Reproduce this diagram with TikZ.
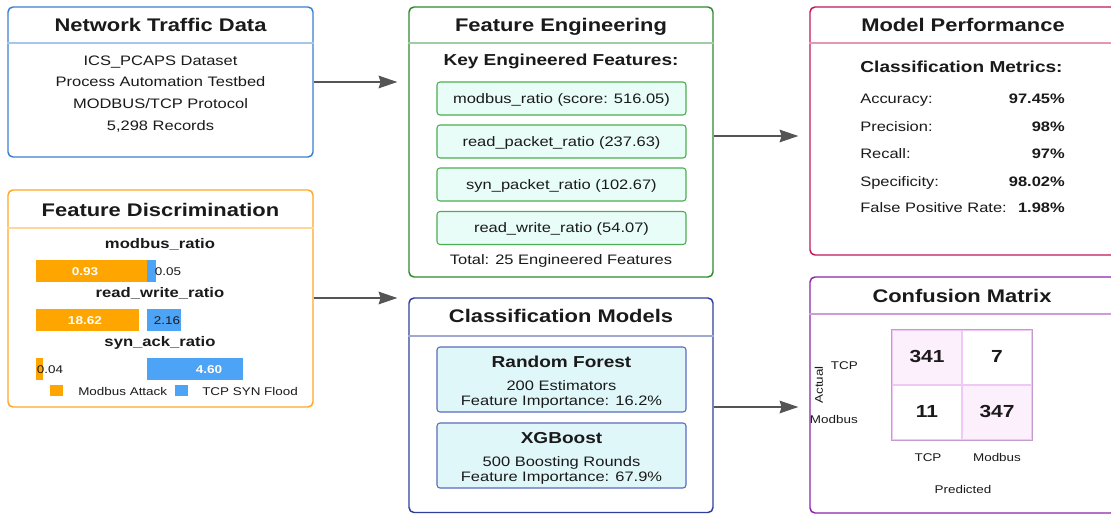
\documentclass[tikz,border=0pt]{standalone}
\usepackage{fontspec}
\setmainfont{Liberation Sans}[FakeStretch=1.2]
\usetikzlibrary{arrows.meta}
\definecolor{cblue}{HTML}{3A80D2}
\definecolor{cgreen}{HTML}{2E8B2E}
\definecolor{cpink}{HTML}{C2185B}
\definecolor{corange}{HTML}{FFA726}
\definecolor{cpurple}{HTML}{8E24AA}
\definecolor{cnavy}{HTML}{2F3F9E}
\definecolor{fmint}{HTML}{E8FDF7}
\definecolor{bmint}{HTML}{4CAF50}
\definecolor{fcyan}{HTML}{E0F7FA}
\definecolor{bcyan}{HTML}{5C6BC0}
\definecolor{barO}{HTML}{FFA500}
\definecolor{barB}{HTML}{4DA3F5}
\definecolor{arrowc}{HTML}{555555}
\definecolor{cellp}{HTML}{FDF0FD}
\definecolor{cellb}{HTML}{C39BD3}
\definecolor{celli}{HTML}{F0C8F5}
\definecolor{txt}{HTML}{1A1A1A}
\newcommand\fs[1]{\fontsize{#1}{#1}\selectfont}
\newcommand\panelbox[7]{%
  \node[panel=#2, minimum width={(#5-#3)*0.75pt}, minimum height={(#6-#4)*0.75pt}] (#1) at ({(#3+#5)/2},{(#4+#6)/2}) {};
  \draw[#2!45!white, line width=1.1pt] (#1.west |- 0,#7) -- (#1.east |- 0,#7);
}
\tikzset{
  panel/.style={draw=#1, line width=1.1pt, rounded corners=3.75pt, fill=white, inner sep=0pt},
  tx/.style={inner sep=0pt, text height=0.72em, text depth=0pt, text=txt},
  ttl/.style={tx, font=\bfseries\fs{13.7}},
  sub/.style={tx, font=\bfseries\fs{11.9}},
  body/.style={tx, font=\fs{10.3}},
  small/.style={tx, font=\fs{8.4}},
  fbox/.style={draw=bmint, fill=fmint, line width=0.8pt, rounded corners=2.25pt, minimum width=186.75pt, minimum height=24.75pt, inner sep=0pt, text height=0.72em, text depth=0pt, font=\fs{10.3}, text=txt},
  mbox/.style={draw=bcyan, fill=fcyan, line width=0.8pt, rounded corners=2.25pt, minimum width=186.75pt, minimum height=48.75pt, inner sep=0pt},
  arr/.style={draw=arrowc, line width=0.9pt, -{Stealth[length=14pt, width=9.5pt, inset=1.5pt]}, shorten >=8.25pt},
  cell/.style={draw=celli, line width=0.8pt, minimum width=52.5pt, minimum height=41.25pt, inner sep=0pt, text height=0.72em, text depth=0pt, font=\bfseries\fs{13.1}, text=txt},
  barv/.style={tx, font=\bfseries\fs{8.5}},
}
\begin{document}
\begin{tikzpicture}[x=0.75pt, y=-0.75pt]
\clip (0,0) rectangle (1111,514);
\fill[white] (0,0) rectangle (1111,514);

% ---------- Network Traffic Data ----------
\panelbox{nt}{cblue}{8}{7}{313}{157}{43}
\node[ttl] (ntt) at (160.5,27) {Network Traffic Data};
\node[body] (nt1) at (160.5,61) {ICS\_PCAPS Dataset};
\node[body] (nt2) at (160.5,82) {Process Automation Testbed};
\node[body] (nt3) at (160.5,104) {MODBUS/TCP Protocol};
\node[body] (nt4) at (160.5,126) {5,298 Records};

% ---------- Feature Engineering ----------
\panelbox{fe}{cgreen}{409}{7}{713}{277}{43}
\node[ttl] (fet) at (561,27) {Feature Engineering};
\node[sub] (fek) at (561,61) {Key Engineered Features:};
\node[fbox] (f1) at (561.5,98.5) {modbus\_ratio (score: 516.05)};
\node[fbox] (f2) at (561.5,141.5) {read\_packet\_ratio (237.63)};
\node[fbox] (f3) at (561.5,184.5) {syn\_packet\_ratio (102.67)};
\node[fbox] (f4) at (561.5,228) {read\_write\_ratio (54.07)};
\node[body] (fetot) at (561,260) {Total: 25 Engineered Features};

% ---------- Model Performance ----------
\panelbox{mp}{cpink}{810}{7}{1116}{255}{43}
\node[ttl] (mpt) at (963,27) {Model Performance};
\node[sub] (mpc) at (961.5,68) {Classification Metrics:};
\node[body, anchor=west] (m1l) at (860,99) {Accuracy:};
\node[body, anchor=west] (m2l) at (860,127) {Precision:};
\node[body, anchor=west] (m3l) at (860,154) {Recall:};
\node[body, anchor=west] (m4l) at (860,182) {Specificity:};
\node[body, anchor=west] (m5l) at (860,208) {False Positive Rate:};
\node[body, font=\bfseries\fs{10.3}, anchor=east] (m1v) at (1065,99) {97.45\%};
\node[body, font=\bfseries\fs{10.3}, anchor=east] (m2v) at (1065,127) {98\%};
\node[body, font=\bfseries\fs{10.3}, anchor=east] (m3v) at (1065,154) {97\%};
\node[body, font=\bfseries\fs{10.3}, anchor=east] (m4v) at (1065,182) {98.02\%};
\node[body, font=\bfseries\fs{10.3}, anchor=east] (m5v) at (1065,208) {1.98\%};

% ---------- Feature Discrimination ----------
\panelbox{fd}{corange}{8}{190}{313}{407}{228}
\node[ttl] (fdt) at (160.5,212) {Feature Discrimination};
\node[sub, font=\bfseries\fs{10.4}] (fd1) at (160,244) {modbus\_ratio};
\node[sub, font=\bfseries\fs{10.4}] (fd2) at (160,293) {read\_write\_ratio};
\node[sub, font=\bfseries\fs{10.4}] (fd3) at (160,342) {syn\_ack\_ratio};
\fill[barO] (36,260) rectangle (147,282);
\fill[barB] (147,260) rectangle (156,282);
\fill[barO] (36,309) rectangle (139,331);
\fill[barB] (147,309) rectangle (181,331);
\fill[barO] (36,358) rectangle (43,380);
\fill[barB] (147,358) rectangle (243,380);
\node[barv, text=white] (b1a) at (85,271) {0.93};
\node[small] (b1b) at (168,271) {0.05};
\node[barv, text=white] (b2a) at (85,320) {18.62};
\node[small] (b2b) at (167,320) {2.16};
\node[small] (b3a) at (50,369) {0.04};
\node[barv, text=white] (b3b) at (209,369) {4.60};
\fill[barO] (50,385) rectangle (63,396);
\node[small, anchor=west] (lg1) at (78,390.5) {Modbus Attack};
\fill[barB] (175,385) rectangle (188,396);
\node[small, anchor=west] (lg2) at (202,390.5) {TCP SYN Flood};

% ---------- Classification Models ----------
\panelbox{cm}{cnavy}{409}{298}{713}{512.5}{336}
\node[ttl] (cmt) at (561,318) {Classification Models};
\node[mbox] (rf) at (561.5,379.5) {};
\node[sub] (rft) at (561.5,363) {Random Forest};
\node[body] (rf1) at (561.5,386) {200 Estimators};
\node[body] (rf2) at (561.5,401) {Feature Importance: 16.2\%};
\node[mbox] (xg) at (561.5,455.5) {};
\node[sub] (xgt) at (561.5,439) {XGBoost};
\node[body] (xg1) at (561.5,462) {500 Boosting Rounds};
\node[body] (xg2) at (561.5,477) {Feature Importance: 67.9\%};

% ---------- Confusion Matrix ----------
\panelbox{cf}{cpurple}{810}{277}{1116}{513}{314}
\node[ttl] (cft) at (962,298) {Confusion Matrix};
\node[cell, fill=cellp] (c11) at (927,357.5) {341};
\node[cell, fill=white] (c12) at (997,357.5) {7};
\node[cell, fill=white] (c21) at (927,412.5) {11};
\node[cell, fill=cellp] (c22) at (997,412.5) {347};
\draw[cellb, line width=0.8pt] (c11.north west) rectangle (c22.south east);
\node[small, anchor=east] (rl1) at (858,365) {TCP};
\node[small, anchor=east] (rl2) at (858,419) {Modbus};
\node[small, rotate=90] (act) at (818,385) {Actual};
\node[small] (cl1) at (928,457) {TCP};
\node[small] (cl2) at (997,457) {Modbus};
\node[small] (pred) at (963,489) {Predicted};

% ---------- Connectors ----------
\draw[arr] (nt.east |- 0,82) -- (fe.west |- 0,82);
\draw[arr] (fe.east |- 0,136) -- (mp.west |- 0,136);
\draw[arr] (fd.east |- 0,298) -- (cm.west |- 0,298);
\draw[arr] (cm.east |- 0,407) -- (cf.west |- 0,407);
\end{tikzpicture}
\end{document}
